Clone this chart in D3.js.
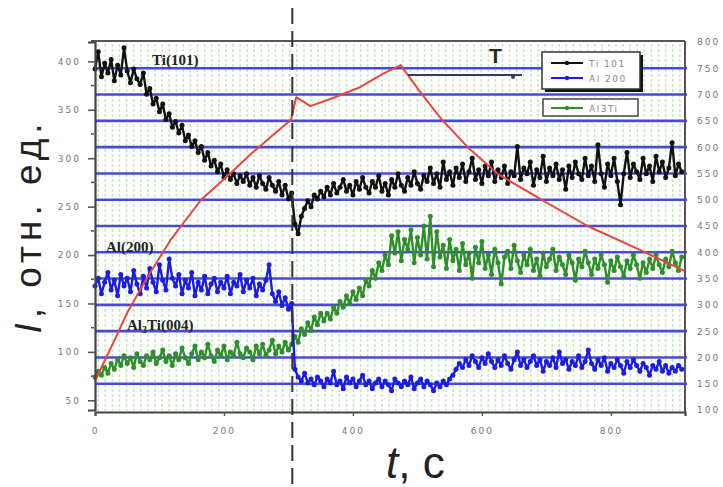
<!DOCTYPE html>
<html>
<head>
<meta charset="utf-8">
<script src="https://cdn.jsdelivr.net/npm/d3@7"></script>
<style>
  html, body { margin: 0; padding: 0; background: #fff; }
  svg { display: block; }
</style>
</head>
<body>
<svg id="chart" width="723" height="487"></svg>
<script>
// Sampling interval of the diffraction intensity records, s
const sampleStep = 5;
// Start times of the two recording segments (before / after the dashed marker), s
const segmentStart = [0, 310];
// Moment marked by the vertical dashed line, s
const markerTime = 306;

// Ti(101) intensity, rel. units
const tiBefore = [
  392, 410, 384, 398, 388, 402, 380, 396, 386, 414,
  390, 378, 392, 382, 376, 388, 366, 372, 356, 362,
  348, 356, 340, 346, 332, 338, 326, 334, 318, 324,
  312, 318, 306, 312, 298, 306, 292, 298, 286, 294,
  280, 288, 278, 284, 274, 282, 276, 284, 272, 280,
  270, 282, 274, 268, 280, 272, 266, 276, 262, 272,
  258, 264
];
const tiAfter = [
  232, 222, 240, 248, 256, 250, 262, 258, 266, 260,
  270, 262, 274, 264, 270, 278, 266, 272, 262, 276,
  268, 280, 270, 264, 276, 270, 282, 266, 274, 262,
  278, 270, 284, 272, 266, 280, 272, 286, 274, 268,
  282, 276, 290, 274, 284, 270, 296, 278, 286, 272,
  290, 280, 294, 276, 286, 300, 278, 288, 274, 292,
  282, 296, 276, 288, 280, 292, 274, 286, 282, 312,
  278, 290, 284, 296, 272, 288, 280, 302, 276, 290,
  282, 294, 278, 288, 268, 292, 280, 296, 284, 278,
  300, 282, 292, 276, 314, 284, 270, 294, 282, 300,
  276, 252, 284, 306, 280, 294, 286, 278, 300, 284,
  292, 276, 302, 286, 296, 280, 290, 316, 282, 294,
  286
];

// Al(200) intensity, rel. units
const alBefore = [
  168, 176, 160, 172, 182, 164, 174, 158, 180, 168,
  176, 162, 184, 170, 160, 178, 166, 186, 172, 162,
  190, 174, 164, 196, 176, 168, 180, 160, 174, 166,
  182, 158, 172, 164, 178, 160, 170, 176, 162, 172,
  166, 178, 160, 172, 168, 180, 162, 174, 166, 176,
  158, 170, 164, 174, 190, 160, 152, 162, 148, 156,
  144, 150
];
const alAfter = [
  82, 74, 70, 78, 68, 72, 66, 74, 70, 64,
  72, 68, 80, 66, 70, 62, 74, 68, 72, 64,
  70, 76, 66, 70, 62, 68, 72, 64, 70, 66,
  60, 72, 68, 64, 70, 66, 74, 62, 68, 72,
  64, 70, 66, 60, 68, 64, 70, 66, 72, 76,
  82, 88, 84, 92, 86, 96, 90, 84, 94, 88,
  98, 90, 84, 92, 86, 96, 88, 82, 92, 100,
  86, 92, 84, 90, 96, 86, 92, 80, 90, 86,
  94, 84, 100, 88, 92, 82, 90, 86, 96, 84,
  90, 102, 88, 82, 92, 86, 94, 80, 88, 84,
  92, 86, 78, 90, 84, 92, 86, 80, 88, 84,
  76, 86, 82, 90, 80, 86, 78, 84, 80, 86,
  82
];

// Al3Ti(004) intensity, rel. units
const al3tiBefore = [
  74, 80, 76, 84, 78, 88, 82, 92, 86, 96,
  88, 94, 84, 98, 90, 86, 96, 92, 100, 88,
  94, 102, 90, 96, 86, 98, 92, 104, 94, 88,
  98, 106, 92, 100, 94, 108, 96, 90, 102, 96,
  106, 92, 100, 96, 110, 98, 94, 104, 100, 92,
  106, 98, 108, 96, 102, 112, 98, 106, 100, 110,
  102, 108
];
const al3tiAfter = [
  116, 110, 124, 118, 130, 122, 136, 128, 140, 132,
  140, 134, 146, 140, 152, 146, 158, 150, 162, 154,
  166, 158, 174, 168, 184, 176, 192, 184, 200, 190,
  220, 202, 224, 194, 216, 206, 226, 192, 218, 200,
  230, 196, 240, 188, 224, 198, 210, 186, 216, 194,
  206, 184, 212, 190, 202, 176, 208, 192, 214, 186,
  200, 180, 206, 192, 170, 198, 204, 186, 210, 194,
  182, 200, 190, 206, 184, 196, 178, 202, 188, 196,
  206, 184, 198, 190, 180, 200, 192, 174, 196, 188,
  204, 192, 180, 196, 186, 200, 190, 172, 194, 184,
  198, 188, 178, 194, 186, 200, 190, 176, 192, 182,
  196, 186, 200, 190, 182, 196, 188, 204, 192, 184,
  198
];

// Temperature profile (right axis), s and °C
const tempTime  = [0, 12, 30, 50, 80, 117, 164, 215, 241, 272, 304, 312, 334, 370, 411, 447, 474, 500, 536, 578, 626, 701, 764, 846, 915];
const tempValue = [155, 186, 232, 285, 350, 423, 499, 556, 586, 619, 652, 695, 678, 694, 714, 740, 756, 712, 655, 600, 548, 494, 450, 404, 364];

// Axis ticks
const xTicks = [0, 200, 400, 600, 800];
const yLeftTicks = [50, 100, 150, 200, 250, 300, 350, 400];
const yRightTicks = [100, 150, 200, 250, 300, 350, 400, 450, 500, 550, 600, 650, 700, 750, 800];
const blueRuleValues = [150, 200, 250, 300, 350, 400, 450, 500, 550, 600, 650, 700, 750];

// Legend entries
const legendNames = ["Ti 101", "Al 200", "Al3Ti"];

// ---------------------------------------------------------------
const svg = d3.select("#chart");
const plot = { left: 95, right: 685, top: 42, bottom: 410 };

const x = d3.scaleLinear().domain([0, 915]).range([plot.left, plot.right]);
const yL = d3.scaleLinear().domain([40, 420]).range([plot.bottom, plot.top]);
const yR = d3.scaleLinear().domain([100, 800]).range([plot.bottom, plot.top]);

function joinSegments(before, after) {
  const pts = before.map((v, i) => ({ t: segmentStart[0] + i * sampleStep, v }));
  return pts.concat(after.map((v, i) => ({ t: segmentStart[1] + i * sampleStep, v })));
}

const seriesList = [
  { name: "al3ti", color: "#2f8f2a", data: joinSegments(al3tiBefore, al3tiAfter) },
  { name: "al", color: "#1c1ce6", data: joinSegments(alBefore, alAfter) },
  { name: "ti", color: "#111111", data: joinSegments(tiBefore, tiAfter) }
];

// Light green dashed vertical grid
const gridG = svg.append("g");
gridG.selectAll("line")
  .data(d3.range(5, 915, 11))
  .join("line")
  .attr("x1", d => x(d)).attr("x2", d => x(d))
  .attr("y1", plot.top + 2).attr("y2", plot.bottom + 1)
  .attr("stroke", "#c2eabb")
  .attr("stroke-width", 1.5)
  .attr("stroke-dasharray", "3,2");

// Blue horizontal rules at the temperature ticks
svg.append("g").selectAll("line")
  .data(blueRuleValues)
  .join("line")
  .attr("x1", plot.left + 1).attr("x2", plot.right + 2)
  .attr("y1", d => yR(d)).attr("y2", d => yR(d))
  .attr("stroke", "#4a4ad2")
  .attr("stroke-width", 2.6);

// Intensity series
const line = d3.line().x(d => x(d.t)).y(d => yL(d.v));
seriesList.forEach(s => {
  const g = svg.append("g");
  g.append("path")
    .datum(s.data)
    .attr("d", line)
    .attr("fill", "none")
    .attr("stroke", s.color)
    .attr("stroke-width", 2.4)
    .attr("stroke-linejoin", "round");
  g.selectAll("circle")
    .data(s.data)
    .join("circle")
    .attr("cx", d => x(d.t)).attr("cy", d => yL(d.v))
    .attr("r", 2.5)
    .attr("fill", s.color);
});

// Temperature curve
const tempData = tempTime.map((t, i) => ({ t, v: tempValue[i] }));
svg.append("path")
  .datum(tempData)
  .attr("d", d3.line().x(d => x(d.t)).y(d => yR(d.v)))
  .attr("fill", "none")
  .attr("stroke", "#e8463f")
  .attr("stroke-width", 2)
  .attr("stroke-linejoin", "round");

// Frame
svg.append("line").attr("x1", plot.left - 4).attr("x2", plot.right).attr("y1", plot.top - 1).attr("y2", plot.top - 1)
  .attr("stroke", "#555").attr("stroke-width", 2);
svg.append("line").attr("x1", plot.right).attr("x2", plot.right).attr("y1", plot.top - 1).attr("y2", plot.bottom + 2)
  .attr("stroke", "#555").attr("stroke-width", 2);

// Left axis
const leftAxis = d3.axisLeft(yL).tickValues(yLeftTicks).tickSize(7).tickPadding(7).tickFormat(d3.format("d"));
const gl = svg.append("g").attr("transform", `translate(${plot.left},0)`).call(leftAxis);
gl.select(".domain").attr("stroke", "#444").attr("stroke-width", 2.2);
gl.selectAll(".tick line").attr("stroke", "#555").attr("stroke-width", 1.6);
gl.selectAll(".tick text").attr("fill", "#777").attr("font-family", "DejaVu Sans")
  .attr("font-size", 9).attr("letter-spacing", 2);
gl.selectAll(".minor")
  .data(yLeftTicks.map(v => v + 25).filter(v => v < 420))
  .join("line").attr("class", "minor")
  .attr("x1", -4).attr("x2", -1)
  .attr("y1", d => yL(d)).attr("y2", d => yL(d))
  .attr("stroke", "#555").attr("stroke-width", 1.6);

// Bottom axis
const bottomAxis = d3.axisBottom(x).tickValues(xTicks).tickSize(4).tickPadding(12).tickFormat(d3.format("d"));
const gb = svg.append("g").attr("transform", `translate(0,${plot.bottom + 2})`).call(bottomAxis);
gb.select(".domain").attr("stroke", "#444").attr("stroke-width", 2.2);
gb.selectAll(".tick line").attr("stroke", "#555").attr("stroke-width", 1.4);
gb.selectAll(".tick text").attr("fill", "#777").attr("font-family", "DejaVu Sans")
  .attr("font-size", 9).attr("letter-spacing", 2);

// Right axis (temperature)
const rightAxis = d3.axisRight(yR).tickValues(yRightTicks).tickSize(0).tickPadding(12).tickFormat(d3.format("d"));
const gr = svg.append("g").attr("transform", `translate(${plot.right},0)`).call(rightAxis);
gr.select(".domain").remove();
gr.selectAll(".tick text").attr("fill", "#777").attr("font-family", "DejaVu Sans")
  .attr("font-size", 9).attr("letter-spacing", 2);

// Reflection labels
const serif = "Liberation Serif";
svg.append("text").attr("x", 152).attr("y", 65).attr("font-family", serif).attr("font-weight", "bold")
  .attr("font-size", 15).attr("fill", "#222").text("Ti(101)");
svg.append("text").attr("x", 106).attr("y", 252).attr("font-family", serif).attr("font-weight", "bold")
  .attr("font-size", 15).attr("fill", "#222").text("Al(200)");
const a3 = svg.append("text").attr("x", 127).attr("y", 330).attr("font-family", serif).attr("font-weight", "bold")
  .attr("font-size", 15).attr("fill", "#222");
a3.append("tspan").text("Al");
a3.append("tspan").attr("font-size", 10).attr("dy", 3).text("3");
a3.append("tspan").attr("dy", -3).text("Ti(004)");

// Temperature tag
svg.append("text").attr("x", 489).attr("y", 63).attr("font-family", "Liberation Sans").attr("font-weight", "bold")
  .attr("font-size", 21).attr("fill", "#2a2a1e").text("T");
svg.append("line").attr("x1", 408).attr("x2", 522).attr("y1", 75).attr("y2", 75)
  .attr("stroke", "#3a3a5e").attr("stroke-width", 2);
svg.append("circle").attr("cx", 513).attr("cy", 77).attr("r", 2).attr("fill", "#3a3a5e");

// Legend
const legendColors = ["#111111", "#1c1ce6", "#2f8f2a"];
svg.append("rect").attr("x", 545).attr("y", 55).attr("width", 98).attr("height", 37).attr("fill", "#111");
svg.append("rect").attr("x", 542).attr("y", 52).attr("width", 98).attr("height", 37)
  .attr("fill", "#fff").attr("stroke", "#333").attr("stroke-width", 1.5);
svg.append("rect").attr("x", 543).attr("y", 99).attr("width", 95).attr("height", 17)
  .attr("fill", "#fff").attr("stroke", "#444").attr("stroke-width", 1.5);
const legendY = [63, 78, 108];
legendNames.forEach((name, i) => {
  const g = svg.append("g");
  g.append("line").attr("x1", 551).attr("x2", 583).attr("y1", legendY[i]).attr("y2", legendY[i])
    .attr("stroke", legendColors[i]).attr("stroke-width", 2);
  g.append("circle").attr("cx", 567).attr("cy", legendY[i]).attr("r", 2.2).attr("fill", legendColors[i]);
  g.append("text").attr("x", 589).attr("y", legendY[i] + 3.5).attr("font-family", "DejaVu Sans")
    .attr("font-size", 9).attr("letter-spacing", 1.5).attr("fill", "#888").text(name);
});

// Dashed marker line
svg.append("line").attr("x1", x(markerTime)).attr("x2", x(markerTime)).attr("y1", 8).attr("y2", 487)
  .attr("stroke", "#333").attr("stroke-width", 2).attr("stroke-dasharray", "16,7");

// Axis titles
const yTitle = svg.append("text")
  .attr("transform", "translate(41,226) rotate(-90)")
  .attr("text-anchor", "middle")
  .attr("font-family", "Liberation Sans")
  .attr("font-size", 37)
  .attr("letter-spacing", 5)
  .attr("fill", "#222");
yTitle.append("tspan").attr("font-style", "italic").text("I");
yTitle.append("tspan").text(", отн. ед.");

const xTitle = svg.append("text")
  .attr("x", 386).attr("y", 478)
  .attr("font-family", "Liberation Sans")
  .attr("font-size", 44)
  .attr("fill", "#222");
xTitle.append("tspan").attr("font-style", "italic").text("t");
xTitle.append("tspan").text(", c");
</script>
</body>
</html>
